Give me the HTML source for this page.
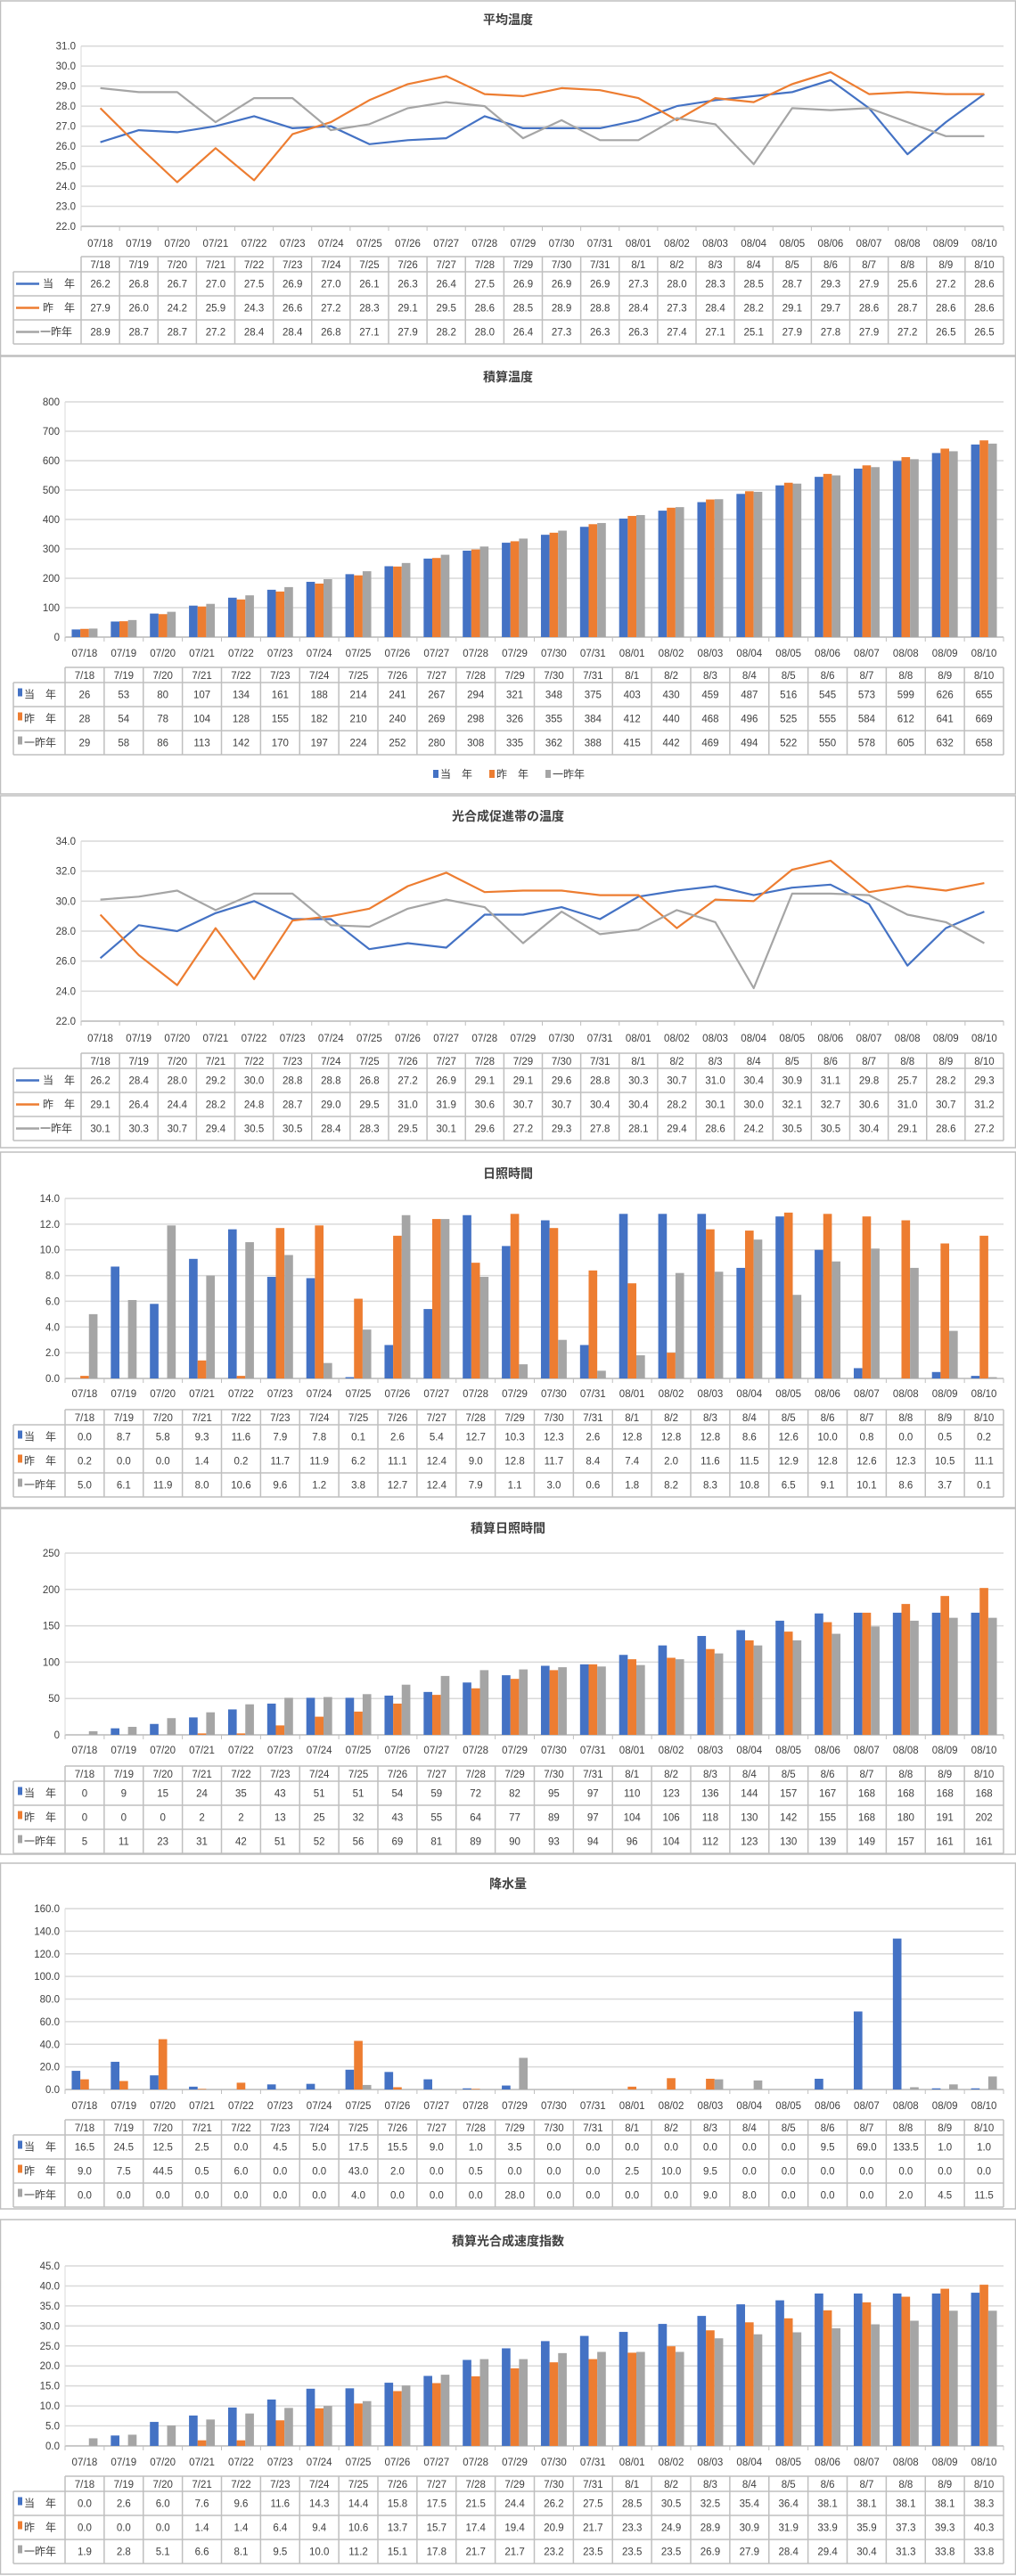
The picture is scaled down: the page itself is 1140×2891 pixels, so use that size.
<!DOCTYPE html>
<html><head><meta charset="utf-8">
<style>
html,body{margin:0;padding:0;background:#fff;}
svg{display:block;}
text{font-family:"Liberation Sans","Noto Sans CJK JP",sans-serif;fill:#404040;}
</style></head>
<body>
<svg id="root" width="1140" height="2891" viewBox="0 0 1140 2891" xmlns="http://www.w3.org/2000/svg"></svg>
<script>
const categories = ["07/18","07/19","07/20","07/21","07/22","07/23","07/24","07/25","07/26","07/27","07/28","07/29","07/30","07/31","08/01","08/02","08/03","08/04","08/05","08/06","08/07","08/08","08/09","08/10"];
const tableCats = ["7/18","7/19","7/20","7/21","7/22","7/23","7/24","7/25","7/26","7/27","7/28","7/29","7/30","7/31","8/1","8/2","8/3","8/4","8/5","8/6","8/7","8/8","8/9","8/10"];
const seriesNames = ["当　年","昨　年","一昨年"];

const avgTempCur = [26.2,26.8,26.7,27.0,27.5,26.9,27.0,26.1,26.3,26.4,27.5,26.9,26.9,26.9,27.3,28.0,28.3,28.5,28.7,29.3,27.9,25.6,27.2,28.6];
const avgTempPrev = [27.9,26.0,24.2,25.9,24.3,26.6,27.2,28.3,29.1,29.5,28.6,28.5,28.9,28.8,28.4,27.3,28.4,28.2,29.1,29.7,28.6,28.7,28.6,28.6];
const avgTempPrev2 = [28.9,28.7,28.7,27.2,28.4,28.4,26.8,27.1,27.9,28.2,28.0,26.4,27.3,26.3,26.3,27.4,27.1,25.1,27.9,27.8,27.9,27.2,26.5,26.5];

const cumTempCur = [26,53,80,107,134,161,188,214,241,267,294,321,348,375,403,430,459,487,516,545,573,599,626,655];
const cumTempPrev = [28,54,78,104,128,155,182,210,240,269,298,326,355,384,412,440,468,496,525,555,584,612,641,669];
const cumTempPrev2 = [29,58,86,113,142,170,197,224,252,280,308,335,362,388,415,442,469,494,522,550,578,605,632,658];

const photoTempCur = [26.2,28.4,28.0,29.2,30.0,28.8,28.8,26.8,27.2,26.9,29.1,29.1,29.6,28.8,30.3,30.7,31.0,30.4,30.9,31.1,29.8,25.7,28.2,29.3];
const photoTempPrev = [29.1,26.4,24.4,28.2,24.8,28.7,29.0,29.5,31.0,31.9,30.6,30.7,30.7,30.4,30.4,28.2,30.1,30.0,32.1,32.7,30.6,31.0,30.7,31.2];
const photoTempPrev2 = [30.1,30.3,30.7,29.4,30.5,30.5,28.4,28.3,29.5,30.1,29.6,27.2,29.3,27.8,28.1,29.4,28.6,24.2,30.5,30.5,30.4,29.1,28.6,27.2];

const sunCur = [0.0,8.7,5.8,9.3,11.6,7.9,7.8,0.1,2.6,5.4,12.7,10.3,12.3,2.6,12.8,12.8,12.8,8.6,12.6,10.0,0.8,0.0,0.5,0.2];
const sunPrev = [0.2,0.0,0.0,1.4,0.2,11.7,11.9,6.2,11.1,12.4,9.0,12.8,11.7,8.4,7.4,2.0,11.6,11.5,12.9,12.8,12.6,12.3,10.5,11.1];
const sunPrev2 = [5.0,6.1,11.9,8.0,10.6,9.6,1.2,3.8,12.7,12.4,7.9,1.1,3.0,0.6,1.8,8.2,8.3,10.8,6.5,9.1,10.1,8.6,3.7,0.1];

const cumSunCur = [0,9,15,24,35,43,51,51,54,59,72,82,95,97,110,123,136,144,157,167,168,168,168,168];
const cumSunPrev = [0,0,0,2,2,13,25,32,43,55,64,77,89,97,104,106,118,130,142,155,168,180,191,202];
const cumSunPrev2 = [5,11,23,31,42,51,52,56,69,81,89,90,93,94,96,104,112,123,130,139,149,157,161,161];

const rainCur = [16.5,24.5,12.5,2.5,0.0,4.5,5.0,17.5,15.5,9.0,1.0,3.5,0.0,0.0,0.0,0.0,0.0,0.0,0.0,9.5,69.0,133.5,1.0,1.0];
const rainPrev = [9.0,7.5,44.5,0.5,6.0,0.0,0.0,43.0,2.0,0.0,0.5,0.0,0.0,0.0,2.5,10.0,9.5,0.0,0.0,0.0,0.0,0.0,0.0,0.0];
const rainPrev2 = [0.0,0.0,0.0,0.0,0.0,0.0,0.0,4.0,0.0,0.0,0.0,28.0,0.0,0.0,0.0,0.0,9.0,8.0,0.0,0.0,0.0,2.0,4.5,11.5];

const psiCur = [0.0,2.6,6.0,7.6,9.6,11.6,14.3,14.4,15.8,17.5,21.5,24.4,26.2,27.5,28.5,30.5,32.5,35.4,36.4,38.1,38.1,38.1,38.1,38.3];
const psiPrev = [0.0,0.0,0.0,1.4,1.4,6.4,9.4,10.6,13.7,15.7,17.4,19.4,20.9,21.7,23.3,24.9,28.9,30.9,31.9,33.9,35.9,37.3,39.3,40.3];
const psiPrev2 = [1.9,2.8,5.1,6.6,8.1,9.5,10.0,11.2,15.1,17.8,21.7,21.7,23.2,23.5,23.5,23.5,26.9,27.9,28.4,29.4,30.4,31.3,33.8,33.8];

const COLORS = ["#4472c4","#ed7d31","#a5a5a5"];
const NS = "http://www.w3.org/2000/svg";
const root = document.getElementById("root");

function mk(parent, tag, attrs, txt){
  const e = document.createElementNS(NS, tag);
  for (const k in attrs) e.setAttribute(k, attrs[k]);
  if (txt !== undefined) e.textContent = txt;
  parent.appendChild(e);
  return e;
}

const panels = [
 {key:"avg-temp", title:"平均温度", type:"line", top:1, bottom:399, titleY:27, pTop:51.7, pBot:254, min:22, max:31, step:1, dec:1, left:91, labY:277, tabY:288, data:[avgTempCur,avgTempPrev,avgTempPrev2]},
 {key:"cum-temp", title:"積算温度", type:"bar", top:400, bottom:891, titleY:428, pTop:451, pBot:715, min:0, max:800, step:100, dec:0, tickDec:0, left:73, labY:737, tabY:749, legendY:872, data:[cumTempCur,cumTempPrev,cumTempPrev2]},
 {key:"photo-temp", title:"光合成促進帯の温度", type:"line", top:893, bottom:1288, titleY:921, pTop:944, pBot:1146, min:22, max:34, step:2, dec:1, left:91, labY:1169, tabY:1182, data:[photoTempCur,photoTempPrev,photoTempPrev2]},
 {key:"sunshine", title:"日照時間", type:"bar", top:1293, bottom:1692, titleY:1322, pTop:1345, pBot:1547, min:0, max:14, step:2, dec:1, tickDec:1, left:73, labY:1568, tabY:1582, data:[sunCur,sunPrev,sunPrev2]},
 {key:"cum-sunshine", title:"積算日照時間", type:"bar", top:1693, bottom:2081, titleY:1720, pTop:1743, pBot:1947, min:0, max:250, step:50, dec:0, tickDec:0, left:73, labY:1968, tabY:1982, data:[cumSunCur,cumSunPrev,cumSunPrev2]},
 {key:"rainfall", title:"降水量", type:"bar", top:2091, bottom:2479, titleY:2119, pTop:2142, pBot:2345, min:0, max:160, step:20, dec:1, tickDec:1, left:73, labY:2367, tabY:2379, data:[rainCur,rainPrev,rainPrev2]},
 {key:"cum-photo-index", title:"積算光合成速度指数", type:"bar", top:2491, bottom:2889, titleY:2520, pTop:2543, pBot:2745, min:0, max:45, step:5, dec:1, tickDec:1, left:73, labY:2767, tabY:2779, data:[psiCur,psiPrev,psiPrev2]}
];
const RIGHT = 1126;

panels.forEach(p => {
  const g = mk(root, "g", {});
  
  
  const frame = mk(g, "rect", {x:0.5, y:p.top, width:1139, height:p.bottom-p.top, fill:"#fff", stroke:"#bfbfbf", "stroke-width":1.5});
  
  
  const t = mk(g, "text", {x:570, y:p.titleY, "text-anchor":"middle", "font-size":14, "font-weight":"bold", fill:"#000"}, p.title);
  
  

  const n = categories.length;
  const bw = (RIGHT - p.left) / n;
  const yScale = v => p.pBot - (v - p.min) / (p.max - p.min) * (p.pBot - p.pTop);
  const xCenter = i => p.left + bw * (i + 0.5);

  // gridlines and y ticks
  for (let v = p.min; v <= p.max + 1e-9; v += p.step) {
    const y = yScale(v);
    const gl = mk(g, "line", {x1:p.left, x2:RIGHT, y1:y, y2:y, stroke:"#d9d9d9", "stroke-width":1.5});
    
    
    const dec = p.type === "line" ? 1 : p.tickDec;
    const tl = mk(g, "text", {x:p.left - 6, y:y + 4, "text-anchor":"end", "font-size":11.5}, v.toFixed(dec));
    
    
  }
  // axis
  const ax = mk(g, "line", {x1:p.left, x2:RIGHT, y1:p.pBot, y2:p.pBot, stroke:"#bfbfbf", "stroke-width":1.5});
  
  
  const yax = mk(g, "line", {x1:p.left, x2:p.left, y1:p.pTop, y2:p.pBot, stroke:"#d9d9d9", "stroke-width":1});
  
  
  for (let i = 0; i <= n; i++) {
    const x = p.left + bw * i;
    const tk = mk(g, "line", {x1:x, x2:x, y1:p.pBot, y2:p.pBot + 5, stroke:"#bfbfbf", "stroke-width":1});
    
    
  }
  categories.forEach((c, i) => {
    const cl = mk(g, "text", {x:xCenter(i), y:p.labY, "text-anchor":"middle", "font-size":11.5}, c);
    
    
  });

  // marks
  if (p.type === "line") {
    p.data.forEach((arr, s) => {
      const pts = arr.map((v, i) => xCenter(i).toFixed(1) + "," + yScale(v).toFixed(1)).join(" ");
      const pl = mk(g, "polyline", {points:pts, fill:"none", stroke:COLORS[s], "stroke-width":2.2, "stroke-linejoin":"round"});
      
      
    });
  } else {
    const w = bw * 0.22;
    p.data.forEach((arr, s) => {
      arr.forEach((v, i) => {
        const x = xCenter(i) + (s - 1.5) * w;
        const y = yScale(v);
        const b = mk(g, "rect", {x:x, y:y, width:w, height:Math.max(0, p.pBot - y), fill:COLORS[s]});
        
        
      });
    });
  }

  // data table
  const hh = 17, rh = 27;
  const tb = p.tabY;
  const tg = mk(g, "g", {});
  
  
  const bottomT = tb + hh + rh * 3;
  const st = {stroke:"#bfbfbf", "stroke-width":1.5};
  // horizontal lines
  [[p.left, tb], [15, tb + hh], [15, tb + hh + rh], [15, tb + hh + 2*rh], [15, bottomT]].forEach(([x0, y]) => {
    mk(tg, "line", Object.assign({x1:x0, x2:RIGHT, y1:y, y2:y}, st));
  });
  mk(tg, "line", Object.assign({x1:15, x2:15, y1:tb + hh, y2:bottomT}, st));
  for (let i = 0; i <= n; i++) {
    const x = p.left + bw * i;
    mk(tg, "line", Object.assign({x1:x, x2:x, y1:tb, y2:bottomT}, st));
  }
  tableCats.forEach((c, i) => {
    const hc = mk(tg, "text", {x:xCenter(i), y:tb + 13, "text-anchor":"middle", "font-size":11.5}, c);
    
    
  });
  p.data.forEach((arr, s) => {
    const ry = tb + hh + rh * s;
    const cy = ry + rh / 2 + 4;
    if (p.type === "line") {
      mk(tg, "line", {x1:18, x2:44, y1:cy - 4, y2:cy - 4, stroke:COLORS[s], "stroke-width":2.5});
      const ln = mk(tg, "text", {x:s === 2 ? 45 : 48, y:cy, "font-size":12}, s === 2 ? "一昨年" : seriesNames[s]);
      
      
    } else {
      mk(tg, "rect", {x:20, y:cy - 11, width:5, height:9, fill:COLORS[s]});
      const ln = mk(tg, "text", {x:27, y:cy, "font-size":12}, seriesNames[s]);
      
      
    }
    arr.forEach((v, i) => {
      const vt = mk(tg, "text", {x:xCenter(i), y:cy, "text-anchor":"middle", "font-size":11.5}, v.toFixed(p.dec));
      
      
    });
  });

  if (p.legendY) {
    const lg = mk(g, "g", {});
    
    
    let lx = 486;
    seriesNames.forEach((nm, s) => {
      mk(lg, "rect", {x:lx, y:p.legendY - 8, width:6, height:9, fill:COLORS[s]});
      const le = mk(lg, "text", {x:lx + 8, y:p.legendY + 1, "font-size":12}, nm);
      
      
      lx += 63;
    });
  }
});
</script>
</body></html>
